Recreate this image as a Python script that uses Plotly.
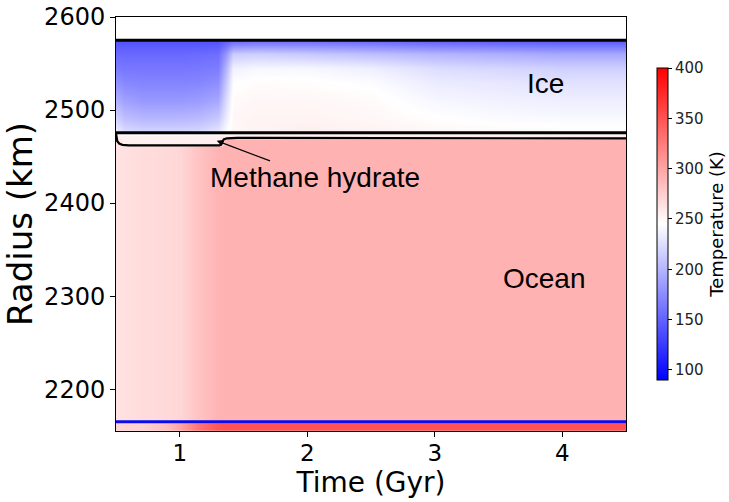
import plotly.graph_objects as go

# ---- data ----
time_gyr = [0.5, 0.56, 0.7, 0.9, 1.0, 1.15, 1.3, 1.36, 1.42, 1.6, 2.0, 2.5, 3.0, 3.5, 4.0, 4.5]
radius_km = [2155, 2163, 2166, 2461, 2463, 2468, 2472, 2477, 2490, 2510, 2530, 2545, 2560, 2568, 2574, 2575]

# temperature (K) rows, one per radius level
t_core_top = [272, 272, 273, 285, 300, 330, 348, 350, 350, 350, 350, 350, 350, 350, 350, 350]
t_ocean    = [262, 264, 266, 268, 270, 282, 291, 292, 292, 292, 292, 292, 292, 292, 292, 292]
t_hydrate_lo = [262, 254, 254, 254, 254, 254, 254, 292, 292, 292, 292, 292, 292, 292, 292, 292]
t_hydrate_hi = [254, 254, 254, 254, 254, 254, 254, 255, 255, 255, 255, 255, 255, 255, 255, 255]
t_ice_2477 = [235, 224, 220, 220, 220, 222, 230, 244, 250, 252, 255, 253, 250, 249, 248, 248]
t_ice_2490 = [220, 208, 203, 203, 203, 205, 214, 235, 250, 252, 252, 250, 246, 243, 242, 242]
t_ice_2510 = [198, 188, 183, 183, 183, 185, 192, 224, 248, 250, 250, 248, 240, 237, 235, 235]
t_ice_2530 = [178, 172, 170, 170, 170, 171, 176, 212, 244, 247, 246, 243, 233, 230, 227, 227]
t_ice_2545 = [165, 162, 162, 162, 162, 163, 166, 200, 236, 240, 240, 235, 224, 220, 216, 216]
t_ice_2560 = [154, 154, 154, 154, 154, 155, 157, 182, 214, 216, 212, 206, 200, 196, 192, 192]
t_ice_2568 = [147, 147, 147, 147, 147, 147, 148, 164, 182, 184, 182, 178, 172, 169, 166, 166]
t_ice_2575 = [140, 140, 140, 140, 140, 140, 140, 148, 155, 157, 157, 154, 150, 147, 145, 145]

temperature_k = [
    t_core_top, t_core_top, t_ocean, t_ocean,
    t_hydrate_lo, t_hydrate_lo, t_hydrate_hi,
    t_ice_2477, t_ice_2490, t_ice_2510, t_ice_2530, t_ice_2545,
    t_ice_2560, t_ice_2568, t_ice_2575, t_ice_2575,
]

# colorbar ticks
cbar_ticks = [100, 150, 200, 250, 300, 350, 400]

# boundary curves
surface_t = [0.5, 4.5]
surface_r = [2575, 2575]
ice_base_t = [0.5, 4.5]
ice_base_r = [2475.5, 2475.5]
hydrate_base_t = [0.5, 0.503, 0.51, 0.525, 0.55, 0.6, 1.31, 1.325, 1.335, 1.345, 1.37, 1.45, 4.5]
hydrate_base_r = [2475, 2470, 2466.5, 2464, 2462.6, 2462, 2462, 2463, 2466, 2468.5, 2469.6, 2470, 2469.5]
core_t = [0.5, 4.5]
core_r = [2165, 2165]

bwr = [[0.0, "rgb(0,0,255)"], [0.5, "rgb(255,255,255)"], [1.0, "rgb(255,0,0)"]]
tickfont = dict(family="DejaVu Sans", size=24, color="black")

fig = go.Figure()
fig.add_trace(go.Heatmap(
    x=time_gyr, y=radius_km, z=temperature_k,
    coloraxis="coloraxis", zsmooth="best", hoverinfo="skip",
))

line_kw = dict(mode="lines", showlegend=False, hoverinfo="skip")
fig.add_trace(go.Scatter(x=surface_t, y=surface_r, line=dict(color="black", width=3), **line_kw))
fig.add_trace(go.Scatter(x=ice_base_t, y=ice_base_r, line=dict(color="black", width=3), **line_kw))
fig.add_trace(go.Scatter(x=hydrate_base_t, y=hydrate_base_r, line=dict(color="black", width=2.2), **line_kw))
fig.add_trace(go.Scatter(x=core_t, y=core_r, line=dict(color="rgb(10,10,235)", width=3), **line_kw))

afont = dict(family="Liberation Sans, Arial", size=28, color="black")
fig.add_annotation(x=3.87, y=2528, text="Ice", showarrow=False, font=afont)
fig.add_annotation(x=3.86, y=2319, text="Ocean", showarrow=False, font=afont)
fig.add_annotation(x=1.29, y=2467, ax=2.06, ay=2427, axref="x", ayref="y",
                   text="Methane hydrate", font=afont, showarrow=True,
                   arrowhead=2, arrowsize=1, arrowwidth=1.3, arrowcolor="black")

fig.update_layout(
    width=729, height=502,
    margin=dict(l=116, r=103, t=17, b=71, autoexpand=False),
    paper_bgcolor="white", plot_bgcolor="white",
    coloraxis=dict(
        cmin=90, cmax=400, colorscale=bwr,
        colorbar=dict(
            x=1.061, xanchor="left", y=0.5, yanchor="middle",
            len=0.754, lenmode="fraction", thickness=11, thicknessmode="pixels",
            outlinewidth=1, outlinecolor="black", xpad=0, ypad=0,
            ticks="outside", ticklen=4, tickcolor="black",
            tickmode="array", tickvals=cbar_ticks, ticktext=[str(v) for v in cbar_ticks],
            tickfont=dict(family="DejaVu Sans", size=15, color="#222"),
            title=dict(text="Temperature (K)", side="right",
                       font=dict(family="DejaVu Sans", size=18, color="black")),
        ),
    ),
    xaxis=dict(range=[0.5, 4.5], tickvals=[1, 2, 3, 4], ticks="outside", ticklen=5,
               tickcolor="black", tickfont=dict(family="DejaVu Sans", size=23, color="black"),
               ticklabelstandoff=-4, showgrid=False, zeroline=False,
               showline=True, linecolor="black", linewidth=1, mirror=True,
               title=dict(text="Time (Gyr)", standoff=4,
                          font=dict(family="DejaVu Sans", size=28, color="black"))),
    yaxis=dict(range=[2155, 2600], tickvals=[2200, 2300, 2400, 2500, 2600], ticks="outside",
               ticklen=5, tickcolor="black", tickfont=tickfont, showgrid=False, zeroline=False,
               showline=True, linecolor="black", linewidth=1, mirror=True,
               title=dict(text="Radius (km)", standoff=4,
                          font=dict(family="DejaVu Sans", size=34, color="black"))),
)

fig.write_html("out.html")
